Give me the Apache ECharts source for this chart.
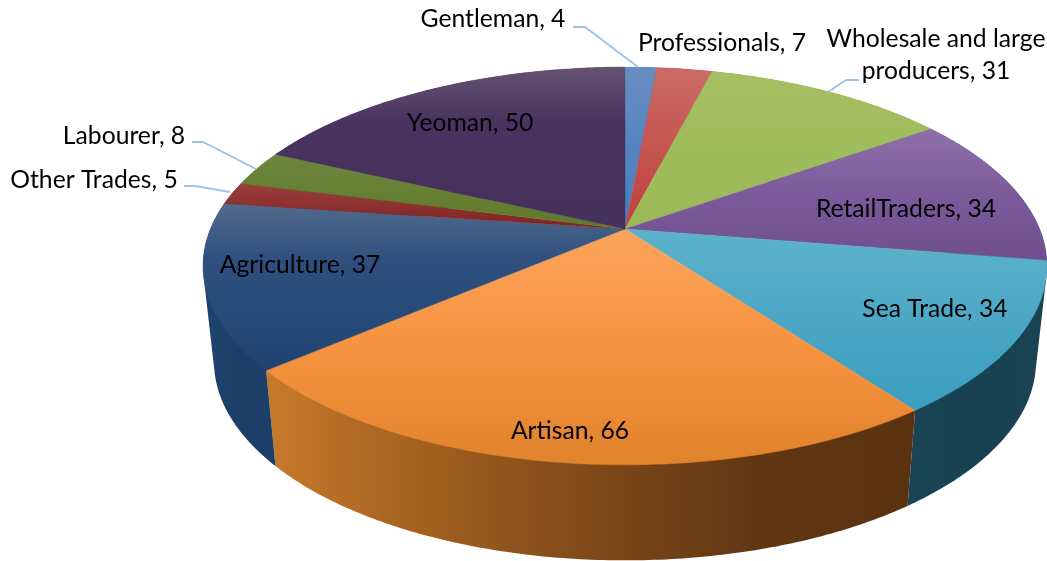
<!DOCTYPE html>
<html>
<head>
<meta charset="utf-8">
<style>html,body{margin:0;padding:0;background:#fff}#c{width:1047px;height:561px}</style>
<script src="https://cdn.jsdelivr.net/npm/echarts@6/dist/echarts.min.js"></script>
</head>
<body>
<div id="c"></div>
<script>
var categories = ['Gentleman','Professionals','Wholesale and large producers','RetailTraders','Sea Trade','Artisan','Agriculture','Other Trades','Labourer','Yeoman'];
var values = [4,7,31,34,34,66,37,5,8,50];

// styles, one per slice
var topStops = [
  ['#6a8dc0','#3f7cc0'],
  ['#cb6b65','#c03f3b'],
  ['#a5c063','#9ab957'],
  ['#8f70aa','#7a5a9a','#6f4f8e'],
  ['#5cb2cc','#3b9dbe'],
  ['#fba45c','#f79340','#e0832b'],
  ['#526a8c','#2f507f','#274a79','#1f4270'],
  ['#9a3f3c','#7d2220'],
  ['#6d8640','#5e7a27'],
  ['#655370','#4b3361','#47315c','#45305a']
];
var wallStops = [
  ['#2c5a8c','#2c5a8c'],['#8c2c2a','#8c2c2a'],['#6e8a3a','#6e8a3a'],['#1a4454','#1a4454'],
  ['#1a4556','#174150','#1a4353'],
  ['#c87a2c','#a0601e','#80491a','#613712','#5a3210'],
  ['#1f4470','#1c3d66','#1d3f6a'],
  ['#6a1c1a','#6a1c1a'],['#4a6020','#4a6020'],['#38244a','#38244a']
];

// perspective of the pie's top face and its base
var P = {cx:625, cy:229, A:414.6, B:192, k:0.186, baseScale:0.974, baseDrop:95.5};
var total = values.reduce(function(a,b){return a+b;},0);

function rim(deg, isBase){
  var t = deg*Math.PI/180, X = Math.sin(t), Y = -Math.cos(t), w = 1-P.k*Y;
  var px = P.A*X/w, py = P.B*Y/w;
  if(isBase){ px*=P.baseScale; py=py+P.baseDrop; }
  return [P.cx+px, P.cy+py];
}
function sliceAngles(i){
  var s=0; for(var j=0;j<i;j++) s+=values[j];
  return [s/total*360, (s+values[i])/total*360];
}
function arcPoints(a0,a1,isBase){
  var n=Math.max(2,Math.ceil((a1-a0)*1.5)), pts=[];
  for(var i=0;i<=n;i++) pts.push(rim(a0+(a1-a0)*i/n,isBase));
  return pts;
}
function evenStops(list){
  return list.map(function(c,i){return {offset:i/(list.length-1),color:c};});
}
function bbox(pts){
  var a=[1e9,1e9,-1e9,-1e9];
  pts.forEach(function(p){a[0]=Math.min(a[0],p[0]);a[1]=Math.min(a[1],p[1]);a[2]=Math.max(a[2],p[0]);a[3]=Math.max(a[3],p[1]);});
  return a;
}
function hull(pts){
  var s=pts.slice().sort(function(a,b){return a[0]-b[0]||a[1]-b[1];});
  function cross(o,a,b){return (a[0]-o[0])*(b[1]-o[1])-(a[1]-o[1])*(b[0]-o[0]);}
  function half(list){
    var h=[];
    list.forEach(function(p){
      while(h.length>1&&cross(h[h.length-2],h[h.length-1],p)<=0) h.pop();
      h.push(p);
    });
    h.pop();
    return h;
  }
  return half(s).concat(half(s.slice().reverse()));
}
function renderWall(params){
  var i=params.dataIndex, a=sliceAngles(i);
  var pts=hull(arcPoints(a[0],a[1],false).concat(arcPoints(a[0],a[1],true)));
  var b=bbox(pts);
  var fill=new echarts.graphic.LinearGradient(b[0],0,b[2],0,evenStops(wallStops[i]),true);
  return {type:'polygon',shape:{points:pts},style:{fill:fill}};
}
function renderTop(params){
  var i=params.dataIndex, a=sliceAngles(i);
  var pts=[[P.cx,P.cy]].concat(arcPoints(a[0],a[1],false));
  var b=bbox(pts);
  var fill=new echarts.graphic.LinearGradient(0,b[1],0,b[3],evenStops(topStops[i]),true);
  return {type:'polygon',shape:{points:pts},style:{fill:fill,stroke:fill,lineWidth:0.4}};
}

// data-label placement (centre x, centre y) and leader lines
var labelAt = [[493,19],[722,43],[936,55],[906,209],[935,309],[570,431],[300,265],[94,180],[124,136],[470,123]];
var leaders = {
  0:[[573,27],[585,27],[638,67]],
  2:[[859,80],[846,80],[828,92]],
  7:[[184,186],[195,186],[230,192]],
  8:[[192,142],[203,142],[256,169]]
};
function renderLabel(params){
  var i=params.dataIndex, kids=[];
  if(leaders[i]) kids.push({type:'polyline',shape:{points:leaders[i]},style:{fill:null,stroke:'#9dc3e6',lineWidth:1.8}});
  var txt=categories[i].replace('large ','large\n')+', '+values[i];
  kids.push({type:'text',x:labelAt[i][0],y:labelAt[i][1],style:{
    text:txt,fill:'#000',font:'24.7px Lato, "Open Sans", sans-serif',
    align:'center',verticalAlign:'middle',lineHeight:32}});
  return {type:'group',children:kids};
}
var rows = categories.map(function(n,i){return {name:n,value:values[i]};});
var chart = echarts.init(document.getElementById('c'),null,{renderer:'canvas'});
chart.setOption({
  animation:false,
  backgroundColor:'#fff',
  series:[
    {type:'custom',name:'wall',coordinateSystem:'none',renderItem:renderWall,data:rows,silent:true,z:1},
    {type:'custom',name:'top',coordinateSystem:'none',renderItem:renderTop,data:rows,silent:true,z:2},
    {type:'custom',name:'labels',coordinateSystem:'none',renderItem:renderLabel,data:rows,silent:true,z:3}
  ]
});
</script>
</body>
</html>
